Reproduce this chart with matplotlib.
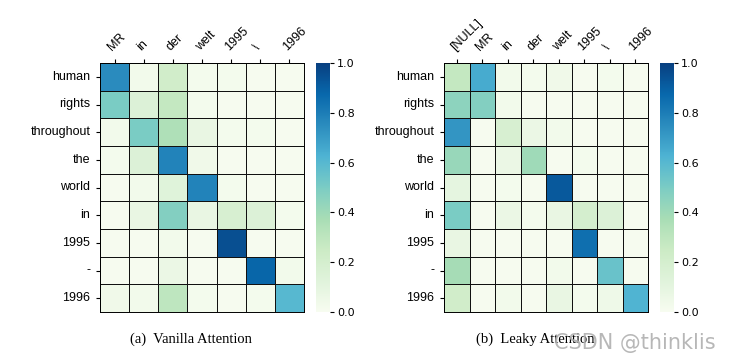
import numpy as np
import matplotlib
matplotlib.use("Agg")
import matplotlib.pyplot as plt
import seaborn as sns

# source / target tokens
rows = ["human", "rights", "throughout", "the", "world", "in", "1995", "-", "1996"]
cols_a = ["MR", "in", "der", "welt", "1995", "\\", "1996"]
cols_b = ["[NULL]", "MR", "in", "der", "welt", "1995", "\\", "1996"]

# attention weights
vanilla = np.array([
    [0.75, 0.03, 0.22, 0.02, 0.02, 0.01, 0.01],
    [0.50, 0.15, 0.28, 0.02, 0.01, 0.01, 0.01],
    [0.03, 0.50, 0.35, 0.08, 0.02, 0.02, 0.01],
    [0.02, 0.15, 0.78, 0.04, 0.01, 0.01, 0.01],
    [0.01, 0.03, 0.13, 0.78, 0.02, 0.01, 0.01],
    [0.01, 0.08, 0.48, 0.08, 0.18, 0.15, 0.02],
    [0.01, 0.01, 0.03, 0.01, 0.95, 0.01, 0.01],
    [0.01, 0.01, 0.07, 0.01, 0.01, 0.88, 0.03],
    [0.04, 0.03, 0.30, 0.02, 0.01, 0.02, 0.60],
])
leaky = np.array([
    [0.28, 0.65, 0.03, 0.02, 0.04, 0.01, 0.02, 0.01],
    [0.45, 0.48, 0.03, 0.01, 0.01, 0.01, 0.01, 0.01],
    [0.72, 0.01, 0.18, 0.07, 0.03, 0.01, 0.01, 0.01],
    [0.42, 0.01, 0.07, 0.40, 0.01, 0.02, 0.01, 0.01],
    [0.10, 0.01, 0.02, 0.01, 0.92, 0.01, 0.01, 0.01],
    [0.50, 0.01, 0.07, 0.02, 0.08, 0.20, 0.15, 0.01],
    [0.08, 0.01, 0.01, 0.01, 0.01, 0.85, 0.01, 0.01],
    [0.38, 0.01, 0.01, 0.01, 0.03, 0.01, 0.55, 0.01],
    [0.22, 0.01, 0.03, 0.01, 0.08, 0.02, 0.05, 0.62],
])

W, H = 730, 361
fig = plt.figure(figsize=(W / 100, H / 100), dpi=100)


def box(x0, y0, x1, y1):
    # pixel box -> figure fraction
    return [x0 / W, 1 - y1 / H, (x1 - x0) / W, (y1 - y0) / H]


panels = [
    (vanilla, cols_a, box(100, 63, 304, 312), box(316, 63, 330, 312), "(a)  Vanilla Attention", 191),
    (leaky, cols_b, box(444, 63, 648, 312), box(660, 63, 674, 312), "(b)  Leaky Attention", 535),
]

for data, cols, hm_box, cb_box, caption, cx in panels:
    ax = fig.add_axes(hm_box)
    cax = fig.add_axes(cb_box)
    sns.heatmap(data, ax=ax, cbar_ax=cax, cmap="GnBu", vmin=0, vmax=1,
                linewidths=0.7, linecolor="#111111",
                xticklabels=cols, yticklabels=rows)
    ax.xaxis.tick_top()
    ax.set_xticklabels(cols, rotation=45, ha="left", rotation_mode="anchor",
                       fontsize=9, family="Liberation Sans")
    ax.set_yticklabels(rows, rotation=0, fontsize=9, family="Liberation Sans")
    ax.tick_params(axis="both", length=3, width=0.8, pad=4)
    for s in ax.spines.values():
        s.set_visible(True)
        s.set_linewidth(0.7)
    cax.tick_params(labelsize=8, length=3, width=0.8, pad=2)
    cax.set_yticks([0, 0.2, 0.4, 0.6, 0.8, 1.0])
    cax.set_yticklabels(["0.0", "0.2", "0.4", "0.6", "0.8", "1.0"], family="DejaVu Sans")
    for s in cax.spines.values():
        s.set_visible(False)
    fig.text(cx / W, 1 - 339 / H, caption, ha="center", va="center",
             fontsize=10.5, family="Liberation Serif")

# watermark, overlaps the caption just like the original
fig.text(716 / W, 1 - 343 / H, "CSDN @thinklis", ha="right", va="center",
         fontsize=15, color="#b0b0b0", alpha=0.9)

fig.savefig("out.png", dpi=100)
